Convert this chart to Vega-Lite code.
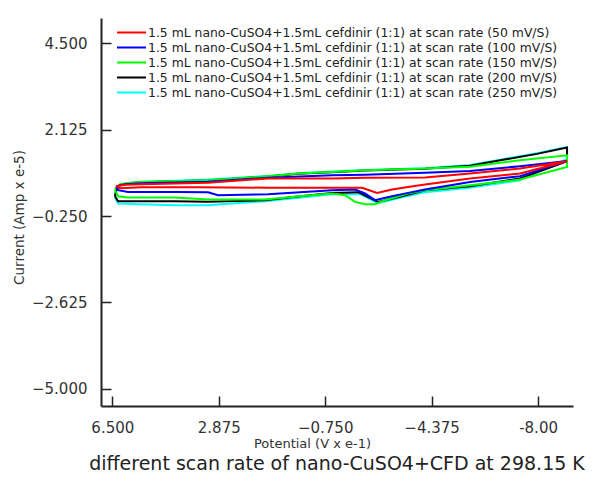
{
  "$schema": "https://vega.github.io/schema/vega-lite/v6.json",
  "autosize": "none",
  "width": 472,
  "height": 388,
  "padding": {"left": 101, "top": 18, "right": 21, "bottom": 84},
  "background": "white",
  "config": {
    "view": {"stroke": null},
    "axis": {
      "domainColor": "#222222",
      "domainWidth": 2,
      "tickColor": "#222222",
      "tickWidth": 1.5,
      "tickSize": -10,
      "grid": false,
      "labelFont": "DejaVu Sans",
      "labelFontSize": 15,
      "labelColor": "#333333",
      "titleFont": "DejaVu Sans",
      "titleFontSize": 13.5,
      "titleFontWeight": "normal",
      "titleColor": "#333333"
    }
  },
  "title": {
    "text": "different scan rate of nano-CuSO4+CFD at 298.15 K",
    "orient": "bottom",
    "font": "DejaVu Sans",
    "fontSize": 19,
    "fontWeight": "normal",
    "color": "#222222",
    "anchor": "middle",
    "offset": 5
  },
  "data": {
    "values": [
      {"r":"250","o":1,"E":6.408,"I":0.267},{"r":"250","o":2,"E":6.374,"I":0.404},{"r":"250","o":3,"E":6.238,"I":0.596},{"r":"250","o":4,"E":5.897,"I":0.665},{"r":"250","o":5,"E":5.522,"I":0.692},{"r":"250","o":6,"E":4.364,"I":0.719},{"r":"250","o":7,"E":3.24,"I":0.75},{"r":"250","o":8,"E":1.197,"I":0.85},{"r":"250","o":9,"E":0.175,"I":0.925},{"r":"250","o":10,"E":-0.983,"I":0.972},{"r":"250","o":11,"E":-2.107,"I":1.016},{"r":"250","o":12,"E":-4.151,"I":1.062},{"r":"250","o":13,"E":-5.683,"I":1.153},{"r":"250","o":14,"E":-6.807,"I":1.309},{"r":"250","o":15,"E":-7.965,"I":1.474},{"r":"250","o":16,"E":-8.987,"I":1.647},{"r":"250","o":17,"E":-8.987,"I":1.309},{"r":"250","o":18,"E":-8.067,"I":1.008},{"r":"250","o":19,"E":-7.386,"I":0.733},{"r":"250","o":20,"E":-5.683,"I":0.527},{"r":"250","o":21,"E":-4.151,"I":0.404},{"r":"250","o":22,"E":-3.299,"I":0.253},{"r":"250","o":23,"E":-2.55,"I":0.102},{"r":"250","o":24,"E":-1.937,"I":0.349},{"r":"250","o":25,"E":-0.983,"I":0.349},{"r":"250","o":26,"E":1.299,"I":0.157},{"r":"250","o":27,"E":3.24,"I":0.047},{"r":"250","o":28,"E":4.364,"I":0.047},{"r":"250","o":29,"E":5.556,"I":0.075},{"r":"250","o":30,"E":6.306,"I":0.094},{"r":"250","o":31,"E":6.408,"I":0.267},
      {"r":"200","o":1,"E":6.408,"I":0.294},{"r":"200","o":2,"E":6.374,"I":0.459},{"r":"200","o":3,"E":6.238,"I":0.596},{"r":"200","o":4,"E":5.897,"I":0.651},{"r":"200","o":5,"E":5.522,"I":0.678},{"r":"200","o":6,"E":4.364,"I":0.706},{"r":"200","o":7,"E":3.24,"I":0.725},{"r":"200","o":8,"E":1.197,"I":0.835},{"r":"200","o":9,"E":0.175,"I":0.909},{"r":"200","o":10,"E":-0.983,"I":0.953},{"r":"200","o":11,"E":-2.107,"I":1.0},{"r":"200","o":12,"E":-4.151,"I":1.046},{"r":"200","o":13,"E":-5.683,"I":1.131},{"r":"200","o":14,"E":-6.807,"I":1.293},{"r":"200","o":15,"E":-7.965,"I":1.457},{"r":"200","o":16,"E":-8.987,"I":1.63},{"r":"200","o":17,"E":-8.987,"I":1.254},{"r":"200","o":18,"E":-7.386,"I":0.78},{"r":"200","o":19,"E":-5.683,"I":0.569},{"r":"200","o":20,"E":-4.151,"I":0.459},{"r":"200","o":21,"E":-3.299,"I":0.275},{"r":"200","o":22,"E":-2.55,"I":0.138},{"r":"200","o":23,"E":-1.869,"I":0.404},{"r":"200","o":24,"E":-0.983,"I":0.385},{"r":"200","o":25,"E":0.107,"I":0.294},{"r":"200","o":26,"E":1.299,"I":0.185},{"r":"200","o":27,"E":3.24,"I":0.144},{"r":"200","o":28,"E":4.364,"I":0.157},{"r":"200","o":29,"E":6.306,"I":0.157},{"r":"200","o":30,"E":6.408,"I":0.294},
      {"r":"150","o":1,"E":6.408,"I":0.459},{"r":"150","o":2,"E":6.374,"I":0.514},{"r":"150","o":3,"E":6.238,"I":0.624},{"r":"150","o":4,"E":5.897,"I":0.665},{"r":"150","o":5,"E":5.522,"I":0.687},{"r":"150","o":6,"E":4.364,"I":0.714},{"r":"150","o":7,"E":3.24,"I":0.733},{"r":"150","o":8,"E":1.197,"I":0.843},{"r":"150","o":9,"E":0.175,"I":0.917},{"r":"150","o":10,"E":-0.983,"I":0.961},{"r":"150","o":11,"E":-2.107,"I":1.008},{"r":"150","o":12,"E":-4.151,"I":1.054},{"r":"150","o":13,"E":-5.683,"I":1.104},{"r":"150","o":14,"E":-7.386,"I":1.282},{"r":"150","o":15,"E":-8.987,"I":1.419},{"r":"150","o":16,"E":-8.987,"I":1.098},{"r":"150","o":17,"E":-7.386,"I":0.752},{"r":"150","o":18,"E":-5.683,"I":0.596},{"r":"150","o":19,"E":-4.151,"I":0.459},{"r":"150","o":20,"E":-3.572,"I":0.368},{"r":"150","o":21,"E":-2.788,"I":0.185},{"r":"150","o":22,"E":-2.447,"I":0.075},{"r":"150","o":23,"E":-2.107,"I":0.075},{"r":"150","o":24,"E":-1.766,"I":0.138},{"r":"150","o":25,"E":-1.426,"I":0.322},{"r":"150","o":26,"E":-0.983,"I":0.368},{"r":"150","o":27,"E":0.107,"I":0.294},{"r":"150","o":28,"E":1.299,"I":0.204},{"r":"150","o":29,"E":3.24,"I":0.204},{"r":"150","o":30,"E":4.364,"I":0.259},{"r":"150","o":31,"E":5.965,"I":0.259},{"r":"150","o":32,"E":6.306,"I":0.294},{"r":"150","o":33,"E":6.408,"I":0.459},
      {"r":"100","o":1,"E":6.374,"I":0.569},{"r":"100","o":2,"E":6.067,"I":0.624},{"r":"100","o":3,"E":5.522,"I":0.651},{"r":"100","o":4,"E":3.24,"I":0.692},{"r":"100","o":5,"E":1.197,"I":0.802},{"r":"100","o":6,"E":-0.983,"I":0.87},{"r":"100","o":7,"E":-2.107,"I":0.884},{"r":"100","o":8,"E":-4.151,"I":0.939},{"r":"100","o":9,"E":-5.683,"I":0.988},{"r":"100","o":10,"E":-7.386,"I":1.117},{"r":"100","o":11,"E":-8.987,"I":1.263},{"r":"100","o":12,"E":-7.386,"I":0.843},{"r":"100","o":13,"E":-5.683,"I":0.687},{"r":"100","o":14,"E":-4.151,"I":0.478},{"r":"100","o":15,"E":-3.572,"I":0.385},{"r":"100","o":16,"E":-3.027,"I":0.294},{"r":"100","o":17,"E":-2.447,"I":0.185},{"r":"100","o":18,"E":-2.107,"I":0.368},{"r":"100","o":19,"E":-1.766,"I":0.478},{"r":"100","o":20,"E":-0.983,"I":0.459},{"r":"100","o":21,"E":0.107,"I":0.404},{"r":"100","o":22,"E":1.197,"I":0.349},{"r":"100","o":23,"E":2.9,"I":0.322},{"r":"100","o":24,"E":3.24,"I":0.404},{"r":"100","o":25,"E":4.364,"I":0.412},{"r":"100","o":26,"E":5.965,"I":0.412},{"r":"100","o":27,"E":6.306,"I":0.459},{"r":"100","o":28,"E":6.374,"I":0.569},
      {"r":"50","o":1,"E":6.374,"I":0.569},{"r":"50","o":2,"E":6.067,"I":0.61},{"r":"50","o":3,"E":5.522,"I":0.624},{"r":"50","o":4,"E":3.24,"I":0.665},{"r":"50","o":5,"E":1.197,"I":0.78},{"r":"50","o":6,"E":-0.983,"I":0.78},{"r":"50","o":7,"E":-2.107,"I":0.802},{"r":"50","o":8,"E":-4.151,"I":0.807},{"r":"50","o":9,"E":-5.683,"I":0.917},{"r":"50","o":10,"E":-7.386,"I":1.054},{"r":"50","o":11,"E":-8.987,"I":1.254},{"r":"50","o":12,"E":-7.386,"I":0.917},{"r":"50","o":13,"E":-5.683,"I":0.78},{"r":"50","o":14,"E":-4.151,"I":0.615},{"r":"50","o":15,"E":-3.572,"I":0.549},{"r":"50","o":16,"E":-3.027,"I":0.478},{"r":"50","o":17,"E":-2.516,"I":0.385},{"r":"50","o":18,"E":-2.005,"I":0.527},{"r":"50","o":19,"E":-0.983,"I":0.527},{"r":"50","o":20,"E":1.197,"I":0.527},{"r":"50","o":21,"E":3.513,"I":0.541},{"r":"50","o":22,"E":5.522,"I":0.541},{"r":"50","o":23,"E":6.238,"I":0.514},{"r":"50","o":24,"E":6.374,"I":0.569}
    ]
  },
  "mark": {"type": "line", "strokeWidth": 2, "clip": true},
  "encoding": {
    "x": {
      "field": "E", "type": "quantitative",
      "scale": {"domain": [6.885, -9.19], "nice": false, "zero": false},
      "axis": {
        "values": [6.5, 2.875, -0.75, -4.375, -8],
        "labelExpr": "datum.value == -8 ? '-8.00' : format(datum.value, '.3f')",
        "labelPadding": 24,
        "title": "Potential (V x e-1)",
        "titleFontSize": 13,
        "titleX": 211,
        "titleY": 37,
        "titleBaseline": "middle"
      }
    },
    "y": {
      "field": "I", "type": "quantitative",
      "scale": {"domain": [-5.47, 5.19], "nice": false, "zero": false},
      "axis": {
        "values": [4.5, 2.125, -0.25, -2.625, -5],
        "format": ".3f",
        "labelPadding": 24,
        "title": "Current (Amp x e-5)",
        "titleX": -82,
        "titleY": 199,
        "titleBaseline": "middle"
      }
    },
    "color": {
      "field": "r", "type": "nominal",
      "scale": {
        "domain": ["50", "100", "150", "200", "250"],
        "range": ["#ff0000", "#0000ff", "#00ff00", "#000000", "#00ffff"]
      },
      "legend": {
        "orient": "none",
        "legendX": 22,
        "legendY": 6,
        "title": null,
        "padding": 0,
        "symbolType": "M-2,0H2",
        "symbolSize": 210,
        "symbolStrokeWidth": 2,
        "labelFont": "DejaVu Sans",
        "labelFontSize": 12.4,
        "labelColor": "#222222",
        "labelLimit": 0,
        "labelOffset": 8,
        "rowPadding": 0,
        "labelExpr": "'1.5 mL nano-CuSO4+1.5mL cefdinir (1:1) at scan rate (' + datum.label + ' mV/S)'"
      }
    },
    "order": {"field": "o", "type": "quantitative"}
  }
}
